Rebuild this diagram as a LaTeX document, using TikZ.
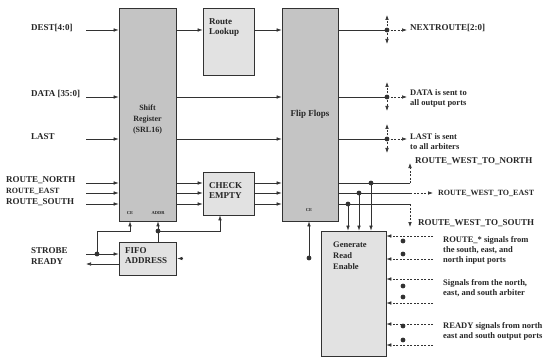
\documentclass[tikz,border=0pt]{standalone}
\usepackage{fontspec}
\setmainfont{Liberation Serif}
\usetikzlibrary{arrows.meta}
\definecolor{boxdark}{RGB}{196,196,196}
\definecolor{boxlight}{RGB}{226,226,226}
\definecolor{ln}{RGB}{50,50,50}
\begin{document}
\begin{tikzpicture}[x=1pt,y=-1pt,
  every node/.style={font=\bfseries\fontsize{9}{10.5}\selectfont, inner sep=0pt, text=black!85},
  darkbox/.style={draw=ln, fill=boxdark, line width=0.7pt, inner sep=0pt},
  lightbox/.style={draw=ln, fill=boxlight, line width=0.7pt, inner sep=0pt},
  wire/.style={draw=ln, line width=0.65pt},
  arr/.style={wire, -{Latex[length=5pt,width=3.6pt]}},
  dsh/.style={dash pattern=on 2pt off 1.5pt},
  lbl/.style={anchor=west, align=left},
  smalltxt/.style={font=\bfseries\fontsize{8.5}{10}\selectfont},
  tinytxt/.style={font=\bfseries\fontsize{4.5}{5}\selectfont},
  dotfill/.style={fill=ln}
]
\useasboundingbox (0,0) rectangle (553,358);

% boxes
\node[darkbox, minimum width=57pt, minimum height=213pt] (sr) at (147.5,114.5) {};
\node[lightbox, minimum width=51pt, minimum height=67pt] (rl) at (228.5,41.5) {};
\node[darkbox, minimum width=56pt, minimum height=213pt] (ff) at (310,114.5) {};
\node[lightbox, minimum width=51pt, minimum height=43pt] (ce) at (228.5,193.5) {};
\node[lightbox, minimum width=57pt, minimum height=33pt] (fifo) at (147.5,258.5) {};
\node[lightbox, minimum width=65pt, minimum height=125pt] (gre) at (353.5,293.5) {};

% box texts
\node[align=center, font=\bfseries\fontsize{8}{11}\selectfont] (srT) at (147.5,120) {Shift\\Register\\(SRL16)};
\node (ffT) at (310,114) {Flip Flops};
\node[lbl] (rlT) at (209,27.5) {Route\\Lookup};
\node[lbl, font=\bfseries\fontsize{9}{9.5}\selectfont] (ceT) at (209,190.5) {CHECK\\EMPTY};
\node[lbl, font=\bfseries\fontsize{9}{9.5}\selectfont] (fifoT) at (125,255.5) {FIFO\\ADDRESS};
\node[lbl, font=\bfseries\fontsize{8.5}{11}\selectfont] (greT) at (333,256) {Generate\\Read\\Enable};
\node[tinytxt] (srCE) at (130,213) {CE};
\node[tinytxt] (srADDR) at (158,213) {ADDR};
\node[tinytxt] (ffCE) at (309,210) {CE};

% input labels
\node[lbl] (lDest) at (31,28) {DEST[4:0]};
\node[lbl] (lData) at (31,94) {DATA [35:0]};
\node[lbl] (lLast) at (31,137) {LAST};
\node[lbl] (lRN) at (6,180) {ROUTE\_NORTH};
\node[lbl, font=\bfseries\fontsize{8}{9}\selectfont] (lRE) at (6,191) {ROUTE\_EAST};
\node[lbl] (lRS) at (6,202) {ROUTE\_SOUTH};
\node[lbl] (lStrobe) at (31,251) {STROBE};
\node[lbl] (lReady) at (31,262) {READY};

% DEST / DATA / LAST paths
\coordinate (iDest) at (86,30);
\coordinate (iData) at (86,97);
\coordinate (iLast) at (86,139);
\draw[arr] (iDest) -- (iDest -| sr.west);
\draw[arr] (iDest -| sr.east) -- (iDest -| rl.west);
\draw[arr] (iDest -| rl.east) -- (iDest -| ff.west);
\draw[arr] (iData) -- (iData -| sr.west);
\draw[arr] (iData -| sr.east) -- (iData -| ff.west);
\draw[arr] (iLast) -- (iLast -| sr.west);
\draw[arr] (iLast -| sr.east) -- (iLast -| ff.west);

% outputs with fan-out
\foreach \n/\y in {oDest/30, oData/97, oLast/139} {
  \coordinate (\n) at (387,\y);
  \draw[wire] (\n -| ff.east) -- (\n);
  \draw[arr,dsh] (\n) -- ++(0,-15);
  \draw[arr,dsh] (\n) -- ++(0,14);
  \draw[arr,dsh] (\n) -- ++(20,0);
  \fill[dotfill] (\n) circle (2.4pt);
}
\node[lbl] (lNext) at (410,28) {NEXTROUTE[2:0]};
\node[lbl, smalltxt] (lDataOut) at (410,98.5) {DATA is sent to\\all output ports};
\node[lbl, smalltxt] (lLastOut) at (410,142) {LAST is sent\\to all arbiters};

% route signals
\foreach \n/\y in {rN/183, rE/193, rS/204} {
  \coordinate (\n) at (86,\y);
  \draw[arr] (\n) -- (\n -| sr.west);
  \draw[arr] (\n -| sr.east) -- (\n -| ce.west);
  \draw[arr] (\n -| ce.east) -- (\n -| ff.west);
}
\coordinate (wN) at (410,183);
\coordinate (wE) at (410,193);
\coordinate (wS) at (410,204);
\draw[wire] (wN -| ff.east) -- (wN);
\draw[arr,dsh] (wN) -- (410,163);
\draw[wire] (wE -| ff.east) -- (wE);
\draw[arr,dsh] (wE) -- (433,193);
\draw[wire] (wS -| ff.east) -- (wS);
\draw[arr,dsh] (wS) -- (410,227);
\node[lbl] (lWN) at (415,161) {ROUTE\_WEST\_TO\_NORTH};
\node[lbl, font=\bfseries\fontsize{8}{9}\selectfont] (lWE) at (438,193) {ROUTE\_WEST\_TO\_EAST};
\node[lbl] (lWS) at (418,223) {ROUTE\_WEST\_TO\_SOUTH};

% taps into Generate Read Enable
\coordinate (dN) at (371,183);
\coordinate (dE) at (359,193);
\coordinate (dS) at (348,204);
\foreach \n in {dN,dE,dS} {
  \draw[arr] (\n) -- (\n |- gre.north);
  \fill[dotfill] (\n) circle (2.4pt);
}

% strobe / CE / ADDR
\coordinate (iStrobe) at (86,254);
\coordinate (strobeDot) at (97,254);
\coordinate (srCEpt) at (130,231);
\coordinate (oReady) at (86,264);
\coordinate (addr) at (158,231);
\coordinate (ceIn) at (220,231);
\draw[arr] (iStrobe) -- (iStrobe -| fifo.west);
\draw[arr] (strobeDot) |- (srCEpt) -- (srCEpt |- sr.south);
\fill[dotfill] (strobeDot) circle (2.4pt);
\draw[arr] (oReady -| fifo.west) -- (oReady);
\draw[arr] (addr |- fifo.north) -- (addr |- sr.south);
\draw[arr] (addr) -- (ceIn) -- (ceIn |- ce.south);
\fill[dotfill] (addr) circle (2.4pt);
\draw[arr] ([xshift=7pt]fifo.east) -- ([xshift=1pt]fifo.east);

% flip-flop CE
\coordinate (ffceDot) at (309,258);
\draw[arr] (ffceDot) -- (ffceDot |- ff.south);
\fill[dotfill] (ffceDot) circle (2.4pt);

% right inputs of Generate Read Enable
\foreach \y in {236,259,279,303,324,345} {
  \coordinate (g\y) at (433,\y);
  \draw[arr,dsh] (g\y) -- (g\y -| gre.east);
}
\foreach \y in {241,254,286,297,326,340} {
  \fill[dotfill] (403,\y) circle (2.4pt);
}
\node[lbl, smalltxt] (lRoute) at (443,250.5) {ROUTE\_* signals from\\the south, east, and\\north input ports};
\node[lbl, smalltxt] (lArb) at (443,288.5) {Signals from the north,\\east, and south arbiter};
\node[lbl, smalltxt] (lReadyR) at (443,331) {READY signals from north\\east and south output ports};
\end{tikzpicture}
\end{document}
